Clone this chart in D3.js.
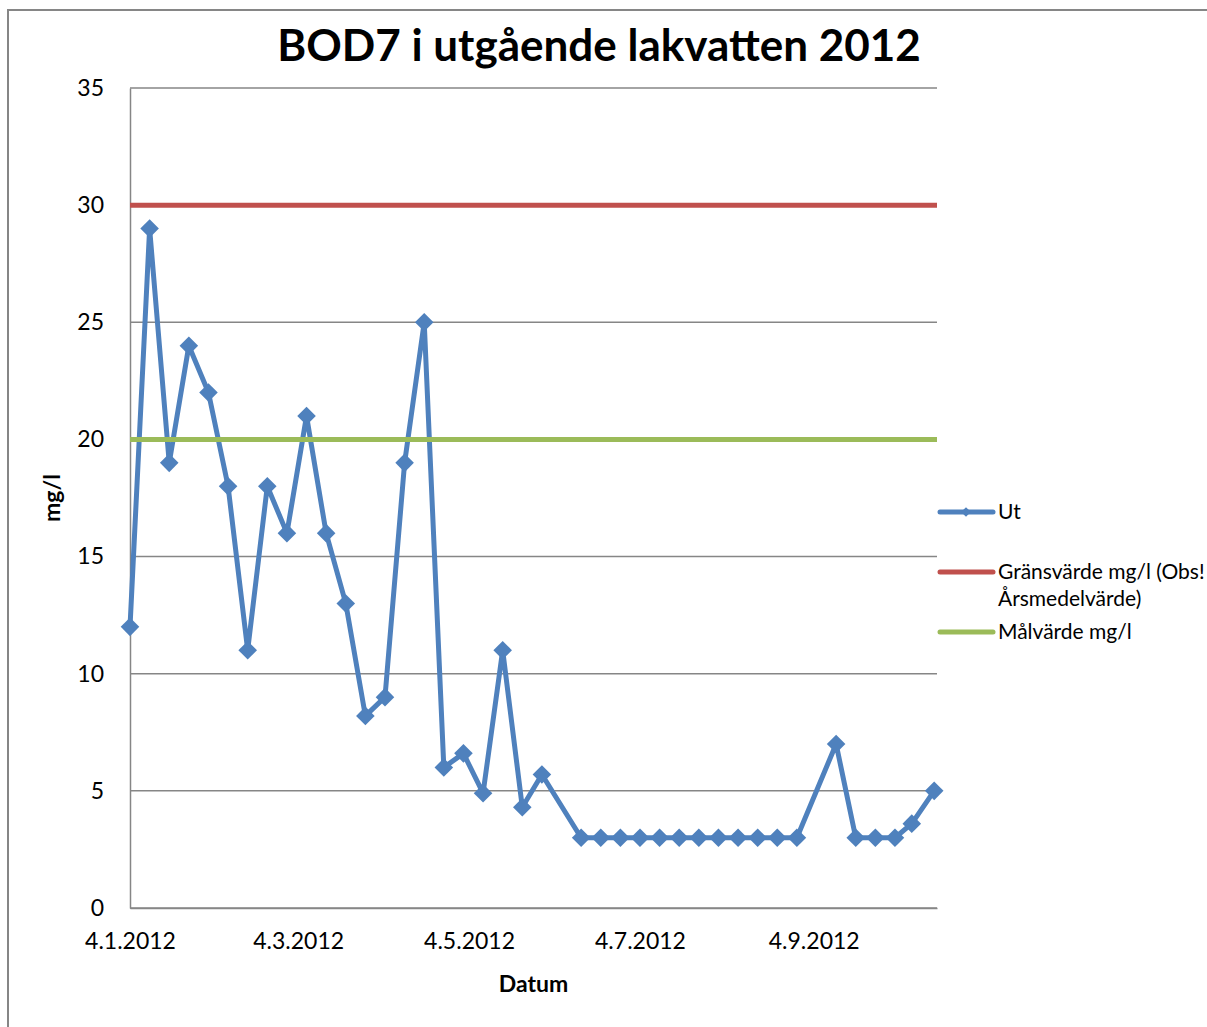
<!DOCTYPE html>
<html>
<head>
<meta charset="utf-8">
<script src="https://cdn.jsdelivr.net/npm/d3@7"></script>
<style>
  html, body { margin: 0; padding: 0; background: #fff; }
  text { font-family: Lato, "Open Sans", sans-serif; fill: #000; }
</style>
</head>
<body>
<div id="chart"></div>
<script>
(function () {
  'use strict';

  // sample dates (weekly) and BOD7 values for "Ut"
  const dates = [
    '2012-01-04', '2012-01-11', '2012-01-18', '2012-01-25', '2012-02-01', '2012-02-08',
    '2012-02-15', '2012-02-22', '2012-02-29', '2012-03-07', '2012-03-14', '2012-03-21',
    '2012-03-28', '2012-04-04', '2012-04-11', '2012-04-18', '2012-04-25', '2012-05-02',
    '2012-05-09', '2012-05-16', '2012-05-23', '2012-05-30', '2012-06-13', '2012-06-20',
    '2012-06-27', '2012-07-04', '2012-07-11', '2012-07-18', '2012-07-25', '2012-08-01',
    '2012-08-08', '2012-08-15', '2012-08-22', '2012-08-29', '2012-09-12', '2012-09-19',
    '2012-09-26', '2012-10-03', '2012-10-09', '2012-10-17'
  ];
  const utValues = [
    12, 29, 19, 24, 22, 18,
    11, 18, 16, 21, 16, 13,
    8.2, 9, 19, 25, 6, 6.6,
    4.9, 11, 4.3, 5.7, 3, 3,
    3, 3, 3, 3, 3, 3,
    3, 3, 3, 3, 7, 3,
    3, 3, 3.6, 5
  ];
  const gransvarde = 30;
  const malvarde = 20;

  const xDomain = ['2012-01-04', '2012-10-18'];
  const xTicks = ['2012-01-04', '2012-03-04', '2012-05-04', '2012-07-04', '2012-09-04'];
  const yTicks = [0, 5, 10, 15, 20, 25, 30, 35];

  const legendLabels = [
    ['Ut'],
    ['Gränsvärde mg/l (Obs!', 'Årsmedelvärde)'],
    ['Målvärde mg/l']
  ];
  const colors = ['#4F81BD', '#C0504D', '#9BBB59'];

  const width = 1207, height = 1027;
  const margin = { left: 130, right: 270, top: 88, bottom: 119 };

  const parse = d3.utcParse('%Y-%m-%d');
  const fmt = d3.utcFormat('%-d.%-m.%Y');

  const svg = d3.select('#chart')
    .append('svg')
    .attr('width', width)
    .attr('height', height);

  // outer chart border
  svg.append('rect')
    .attr('x', 8).attr('y', 10)
    .attr('width', 1220).attr('height', 1040)
    .attr('fill', 'none')
    .attr('stroke', '#868686')
    .attr('stroke-width', 2);

  const x = d3.scaleUtc()
    .domain(xDomain.map(parse))
    .range([margin.left, width - margin.right]);

  const y = d3.scaleLinear()
    .domain([0, 35])
    .range([height - margin.bottom, margin.top]);

  // gridlines
  svg.append('g')
    .selectAll('line')
    .data(yTicks)
    .join('line')
    .attr('x1', x.range()[0])
    .attr('x2', x.range()[1])
    .attr('y1', d => y(d))
    .attr('y2', d => y(d))
    .attr('stroke', '#868686')
    .attr('stroke-width', 1.5);

  // y axis
  const yAxis = svg.append('g')
    .attr('transform', `translate(${margin.left},0)`)
    .call(d3.axisLeft(y).tickValues(yTicks).tickSize(0).tickPadding(26));
  yAxis.select('.domain').attr('stroke', '#868686').attr('stroke-width', 1.5);
  yAxis.selectAll('text')
    .style('font-size', '23px')
    .style('font-family', 'Lato, sans-serif')
    .attr('fill', '#000');

  // x axis
  const xAxis = svg.append('g')
    .attr('transform', `translate(0,${y(0)})`)
    .call(d3.axisBottom(x).tickValues(xTicks.map(parse)).tickFormat(fmt).tickSize(0).tickPadding(25));
  xAxis.select('.domain').attr('stroke', '#868686').attr('stroke-width', 1.5);
  xAxis.selectAll('text')
    .style('font-size', '23px')
    .style('font-family', 'Lato, sans-serif')
    .attr('fill', '#000');

  // Ut series
  const utData = dates.map((d, i) => ({ date: parse(d), value: utValues[i] }));
  const line = d3.line()
    .x(d => x(d.date))
    .y(d => y(d.value));

  svg.append('path')
    .datum(utData)
    .attr('d', line)
    .attr('fill', 'none')
    .attr('stroke', colors[0])
    .attr('stroke-width', 5)
    .attr('stroke-linejoin', 'round');

  const diamond = d3.symbol().type(d3.symbolDiamond2).size(220);
  svg.append('g')
    .selectAll('path')
    .data(utData)
    .join('path')
    .attr('d', diamond)
    .attr('transform', d => `translate(${x(d.date)},${y(d.value)})`)
    .attr('fill', colors[0]);

  // reference lines
  [gransvarde, malvarde].forEach((v, i) => {
    svg.append('line')
      .attr('x1', x.range()[0])
      .attr('x2', x.range()[1])
      .attr('y1', y(v))
      .attr('y2', y(v))
      .attr('stroke', colors[i + 1])
      .attr('stroke-width', 5);
  });

  // title
  svg.append('text')
    .attr('x', 599)
    .attr('y', 61)
    .attr('text-anchor', 'middle')
    .style('font-size', '44px')
    .style('font-weight', 'bold')
    .text('BOD7 i utgående lakvatten 2012');

  // axis titles
  svg.append('text')
    .attr('x', (x.range()[0] + x.range()[1]) / 2)
    .attr('y', 992)
    .attr('text-anchor', 'middle')
    .style('font-size', '23px')
    .style('font-weight', 'bold')
    .text('Datum');

  svg.append('text')
    .attr('transform', `translate(60,${(y(0) + y(35)) / 2}) rotate(-90)`)
    .attr('text-anchor', 'middle')
    .style('font-size', '23px')
    .style('font-weight', 'bold')
    .text('mg/l');

  // legend
  const legendY = [512, 572, 632];
  const legend = svg.append('g');
  legendLabels.forEach((lines, i) => {
    legend.append('line')
      .attr('x1', 940).attr('x2', 993)
      .attr('y1', legendY[i]).attr('y2', legendY[i])
      .attr('stroke', colors[i])
      .attr('stroke-width', 5)
      .attr('stroke-linecap', 'round');
    if (i === 0) {
      legend.append('path')
        .attr('d', d3.symbol().type(d3.symbolDiamond2).size(60))
        .attr('transform', `translate(966,${legendY[i]})`)
        .attr('fill', colors[i]);
    }
    lines.forEach((t, j) => {
      legend.append('text')
        .attr('x', 998)
        .attr('y', legendY[i] + 7 + j * 27)
        .style('font-size', '21px')
        .text(t);
    });
  });
})();
</script>
</body>
</html>
